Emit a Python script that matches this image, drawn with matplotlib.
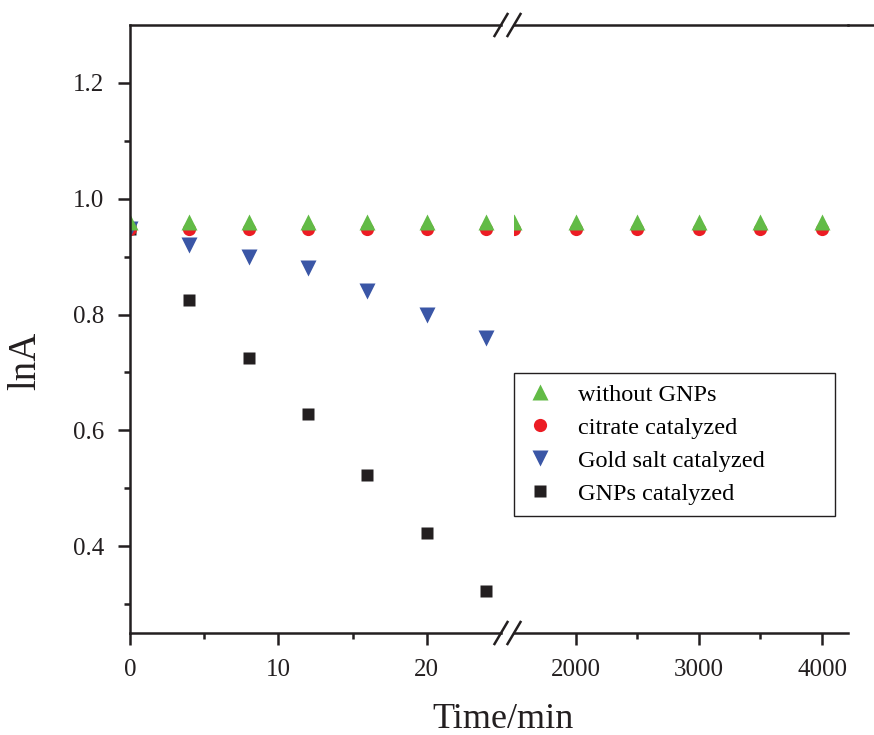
import matplotlib.pyplot as plt
from matplotlib.lines import Line2D

plt.rcParams['font.family'] = ['Liberation Serif', 'DejaVu Serif']

W, H = 874, 735

# time points (min) for the two parts of the broken axis
t_left = [0, 4, 8, 12, 16, 20, 24]
t_right = [1500, 2000, 2500, 3000, 3500, 4000]

without_left = [0.96, 0.96, 0.96, 0.96, 0.96, 0.96, 0.96]
without_right = [0.96, 0.96, 0.96, 0.96, 0.96, 0.96]
citrate_left = [0.948, 0.948, 0.948, 0.948, 0.948, 0.948, 0.948]
citrate_right = [0.948, 0.948, 0.948, 0.948, 0.948, 0.948]
gold_left = [0.948, 0.92, 0.90, 0.88, 0.84, 0.80, 0.76]
gnps_left = [0.948, 0.825, 0.725, 0.628, 0.522, 0.422, 0.322]

labels = ['without GNPs', 'citrate catalyzed', 'Gold salt catalyzed', 'GNPs catalyzed']

GREEN = '#62bb46'
RED = '#ec1c24'
BLUE = '#3a56a6'
BLACK = '#231f20'

fig = plt.figure(figsize=(W / 100, H / 100), dpi=100)

def px(x0, y0, x1, y1):
    return [x0 / W, 1 - y1 / H, (x1 - x0) / W, (y1 - y0) / H]

axl = fig.add_axes(px(130, 25, 501, 633))
axr = fig.add_axes(px(514, 25, 848, 633), sharey=axl)

lw = 1.8
for ax in (axl, axr):
    for s in ax.spines.values():
        s.set_linewidth(lw)
        s.set_color(BLACK)
    ax.spines['right'].set_visible(False)
    ax.tick_params(which='major', direction='out', length=8.5, width=lw,
                   labelsize=18, colors=BLACK, pad=10)
    ax.tick_params(which='minor', direction='out', length=4.5, width=lw,
                   colors=BLACK)
    ax.tick_params(axis='y', pad=10)

axr.spines['left'].set_visible(False)
axr.tick_params(axis='y', which='both', left=False, labelleft=False)

# left part
axl.plot(t_left, gnps_left, 's', color=BLACK, ms=8, mec='none')
axl.plot(t_left, citrate_left, 'o', color=RED, ms=9.5, mec='none')
axl.plot(t_left, gold_left, 'v', color=BLUE, ms=11, mec='none')
axl.plot(t_left, without_left, '^', color=GREEN, ms=11, mec='none')
# right part
axr.plot(t_right, citrate_right, 'o', color=RED, ms=9.5, mec='none')
axr.plot(t_right, without_right, '^', color=GREEN, ms=11, mec='none')

axl.set_xlim(0, 25)
axr.set_xlim(1500, 4210)
axl.set_ylim(0.25, 1.3)

axl.set_xticks([0, 10, 20])
axl.set_xticks([5, 15], minor=True)
axr.set_xticks([2000, 3000, 4000])
axr.set_xticks([2500, 3500], minor=True)
axl.set_yticks([0.4, 0.6, 0.8, 1.0, 1.2])
axl.set_yticks([0.3, 0.5, 0.7, 0.9, 1.1], minor=True)
axl.set_yticklabels(['0.4', '0.6', '0.8', '1.0', '1.2'])

# break marks
for y in (25, 633):
    for x in (501, 514):
        fig.add_artist(Line2D([(x - 6.5) / W, (x + 6.5) / W],
                              [1 - (y + 11) / H, 1 - (y - 11) / H],
                              color=BLACK, lw=lw))
# top line continues to the edge
fig.add_artist(Line2D([848 / W, 1.0], [1 - 25 / H, 1 - 25 / H], color=BLACK, lw=lw))

fig.text(503 / W, 1 - 720 / H, 'Time/min', fontsize=26, ha='center', va='center', color=BLACK)
fig.text(26 / W, 1 - 361 / H, 'lnA', fontsize=28, rotation=90, ha='center', va='center', color=BLACK)

handles = [
    Line2D([], [], ls='none', marker='^', color=GREEN, ms=11, mec='none'),
    Line2D([], [], ls='none', marker='o', color=RED, ms=9.5, mec='none'),
    Line2D([], [], ls='none', marker='v', color=BLUE, ms=11, mec='none'),
    Line2D([], [], ls='none', marker='s', color=BLACK, ms=8, mec='none'),
]
leg = fig.legend(handles, labels, loc='upper left',
                 bbox_to_anchor=(514 / W, 1 - 517 / H, 321 / W, 144 / H), mode='expand',
                 fontsize=17.5, frameon=True, fancybox=False, framealpha=1,
                 edgecolor=BLACK, borderpad=0.45, labelspacing=0.45,
                 handlelength=1.2, handletextpad=1.0, borderaxespad=0)
leg.get_frame().set_linewidth(1.0)

fig.savefig('out.png', dpi=100)
